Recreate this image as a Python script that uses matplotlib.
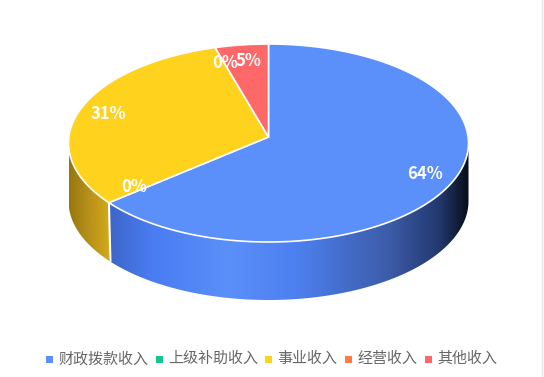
import numpy as np
import matplotlib
matplotlib.use("Agg")
import matplotlib.pyplot as plt
from matplotlib.colors import LinearSegmentedColormap
from matplotlib.patches import Polygon

plt.rcParams["font.family"] = ["Noto Sans CJK SC", "DejaVu Sans"]

categories = ["财政拨款收入", "上级补助收入", "事业收入", "经营收入", "其他收入"]
values = [64.7, 0.0, 31.0, 0.0, 4.3]
pct_labels = ["64%", "0%", "31%", "0%", "5%"]
colors = ["#5b8ff9", "#13c88b", "#ffd21e", "#ff7a45", "#ff6868"]
legend_marker_x = [49.5, 159, 268, 348, 428]

# pie geometry in pixels
CX, CY = 268.5, 143
A, B = 200, 99
APEX_Y = 137
DEPTH = 58

blue_side = ["#3d66c8", "#4a7cf2", "#5b8ff9", "#4d80f0", "#3c5ca8", "#22386e", "#080d18"]
blue_pos = [0.0, 0.12, 0.33, 0.52, 0.78, 0.92, 1.0]
yellow_side = ["#96760f", "#b8921a", "#d4a91a"]


def rim(deg):
    t = np.radians(deg)
    return CX + A * np.sin(t), CY - B * np.cos(t)


def side_poly(a0, a1):
    t = np.linspace(a0, a1, 150)
    x, y = rim(t)
    return np.r_[x, x[::-1]], np.r_[y, y[::-1] + DEPTH]


def draw_side(ax, a0, a1, cmap):
    x, y = side_poly(a0, a1)
    patch = Polygon(np.c_[x, y], closed=True, fc="none", ec="none")
    ax.add_patch(patch)
    grad = np.linspace(0, 1, 256).reshape(1, -1)
    im = ax.imshow(grad, cmap=cmap, aspect="auto", zorder=1,
                   extent=(x.min(), x.max(), y.max(), y.min()))
    im.set_clip_path(patch)


fig = plt.figure(figsize=(5.44, 3.77), dpi=100)
ax = fig.add_axes([0, 0, 1, 1])

ends = np.cumsum(values) * 360 / sum(values)
starts = np.r_[0, ends[:-1]]

# side walls, only the front part of the rim shows
blue_end = ends[0]
draw_side(ax, 90, blue_end, LinearSegmentedColormap.from_list(
    "blue", list(zip(blue_pos, blue_side))))
draw_side(ax, blue_end, 270, LinearSegmentedColormap.from_list("yellow", yellow_side))

jx, jy = rim(blue_end)
ax.plot([jx, jx + 1.5], [jy, jy + DEPTH], color="white", lw=1.5, zorder=2)

# top face
for s, e, c in zip(starts, ends, colors):
    if e - s <= 0:
        continue
    x, y = rim(np.linspace(s, e, 200))
    ax.add_patch(Polygon(np.c_[np.r_[CX, x], np.r_[APEX_Y, y]], closed=True,
                         fc=c, ec="white", lw=1.2, zorder=3))

# labels
for s, e, lab in zip(starts, ends, pct_labels):
    t = np.radians((s + e) / 2)
    lx = CX + A * 0.86 * np.sin(t) + 3
    ly = APEX_Y - B * 0.8 * np.cos(t) + 2
    ax.text(lx, ly, lab, color="white", fontsize=12, fontweight="bold",
            ha="center", va="center", zorder=5)

# legend
for mx, name, c in zip(legend_marker_x, categories, colors):
    ax.add_patch(plt.Rectangle((mx - 3.5, 356), 7, 7, fc=c, ec="none"))
    ax.text(mx + 9.5, 359, name, color="#666666", fontsize=10.8, ha="left", va="center")

# thin frame line at the right
ax.axvline(541.5, color="#e8e8e8", lw=1)

ax.set_xlim(0, 544)
ax.set_ylim(377, 0)
ax.axis("off")
fig.savefig("out.png", dpi=100)
